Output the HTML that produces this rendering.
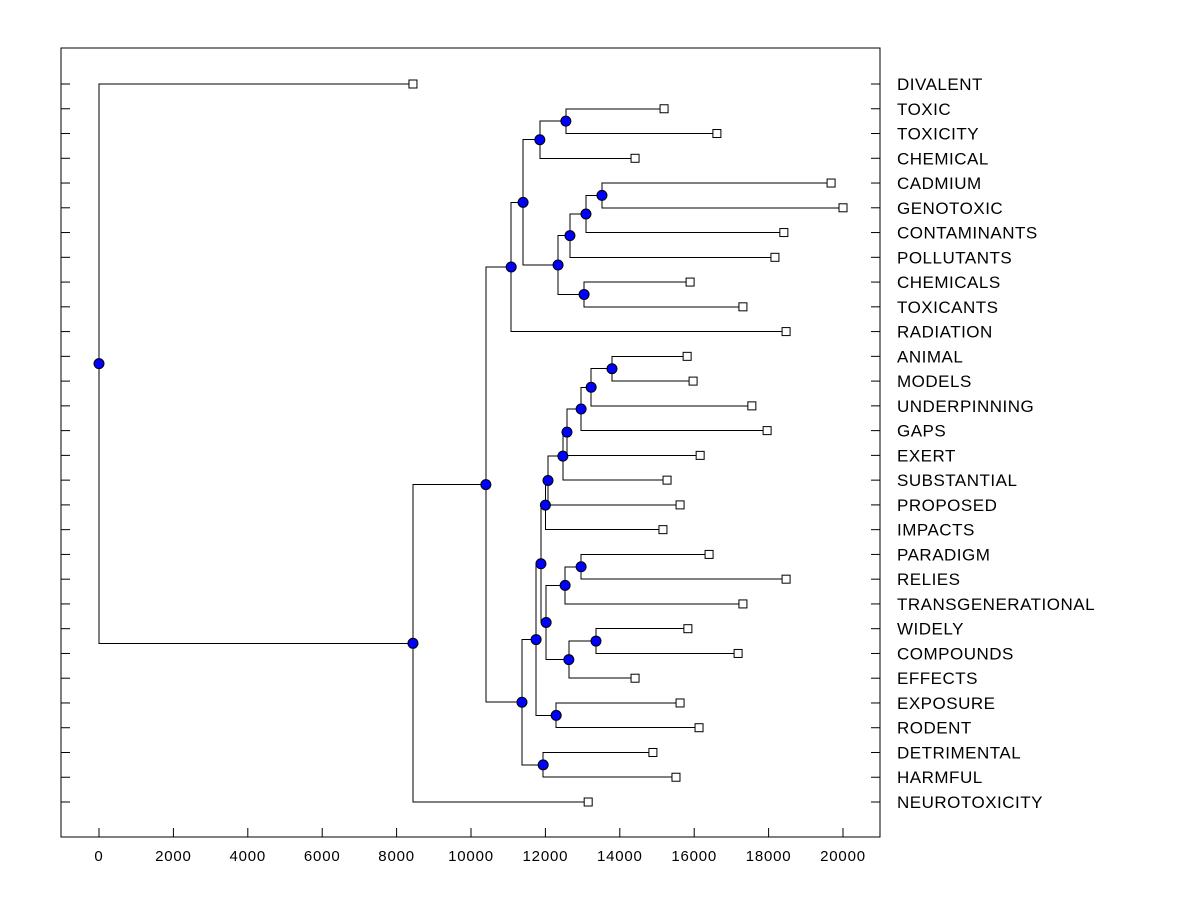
<!DOCTYPE html>
<html><head><meta charset="utf-8"><style>body{margin:0;background:#fff}svg{display:block}text{font-family:"Liberation Sans",Arial,sans-serif;fill:#000}</style></head>
<body>
<svg id="chart" width="1200" height="900">
<rect x="61" y="48" width="819" height="789" fill="none" stroke="#000" stroke-width="1"/>
<g id="ticks"></g><g id="tree"></g><g id="labels"></g>
</svg>
<script>
const leafNames = ["DIVALENT","TOXIC","TOXICITY","CHEMICAL","CADMIUM","GENOTOXIC","CONTAMINANTS","POLLUTANTS","CHEMICALS","TOXICANTS","RADIATION","ANIMAL","MODELS","UNDERPINNING","GAPS","EXERT","SUBSTANTIAL","PROPOSED","IMPACTS","PARADIGM","RELIES","TRANSGENERATIONAL","WIDELY","COMPOUNDS","EFFECTS","EXPOSURE","RODENT","DETRIMENTAL","HARMFUL","NEUROTOXICITY"];
const leafValues = [8440,15190,16610,14410,19680,20000,18410,18170,15890,17310,18470,15810,15970,17550,17960,16160,15270,15620,15160,16400,18470,17310,15830,17180,14410,15620,16130,14890,15510,13150];
// merge nodes: [childA, childB, height]; leaf index numbers, "nK" refers to merge K
const nodes = [
 [1,2,12550],["n0",3,11850],[4,5,13520],["n2",6,13090],["n3",7,12660],[8,9,13040],["n4","n5",12340],
 ["n1","n6",11400],["n7",10,11080],[11,12,13790],["n9",13,13230],["n10",14,12960],["n11",15,12580],
 ["n12",16,12470],["n13",17,12070],["n14",18,12000],[19,20,12960],["n16",21,12530],[22,23,13360],
 ["n18",24,12630],["n17","n19",12020],["n15","n20",11880],[25,26,12290],["n21","n22",11750],
 [27,28,11940],["n23","n24",11370],["n8","n25",10400],["n26",29,8440],[0,"n27",0]
];
const xTicks = [0,2000,4000,6000,8000,10000,12000,14000,16000,18000,20000];
</script>
<script>
const X0=99, XS=744/20000, Y0=84, YS=(802-84)/29;
const sx=v=>X0+v*XS, sy=i=>Y0+i*YS;
const NS="http://www.w3.org/2000/svg";
function mk(t,a,p){const e=document.createElementNS(NS,t);for(const k in a)e.setAttribute(k,a[k]);p.appendChild(e);return e;}
const tk=document.getElementById('ticks'), tr=document.getElementById('tree'), lb=document.getElementById('labels');
xTicks.forEach(v=>{
 const l=mk('line',{x1:sx(v),x2:sx(v),y1:828,y2:837,stroke:'#000'},tk);
 
 
 const t=mk('text',{x:sx(v),y:861,'text-anchor':'middle','font-size':'15','letter-spacing':'0.8'},tk);t.textContent=v;
 
 
});
leafNames.forEach((n,i)=>{
 const y=sy(i);
 const a=mk('line',{x1:61,x2:70,y1:y,y2:y,stroke:'#000'},tk);
 
 
 const b=mk('line',{x1:871,x2:880,y1:y,y2:y,stroke:'#000'},tk);
 
 
 const t=mk('text',{x:897,y:y+6,'font-size':'17','letter-spacing':'0.5'},lb);t.textContent=n;
 
 
});
const pos={};
function get(c){ if(typeof c==='number') return {x:sx(leafValues[c]),y:sy(c)}; return pos[c]; }
nodes.forEach((nd,k)=>{
 const a=get(nd[0]), b=get(nd[1]), x=sx(nd[2]);
 const p=mk('path',{d:`M${a.x},${a.y}H${x}V${b.y}H${b.x}`,fill:'none',stroke:'#000','stroke-width':1,'shape-rendering':'crispEdges'},tr);
 
 
 pos['n'+k]={x:x,y:(a.y+b.y)/2};
});
leafNames.forEach((n,i)=>{
 const r=mk('rect',{x:sx(leafValues[i])-4,y:sy(i)-4,width:8,height:8,fill:'#fff',stroke:'#000'},tr);
 
 
});
nodes.forEach((nd,k)=>{
 const p=pos['n'+k];
 const c=mk('circle',{cx:p.x,cy:p.y,r:5,fill:'#0000ff',stroke:'#000','stroke-width':1},tr);
 
 
});
</script>
</body></html>
